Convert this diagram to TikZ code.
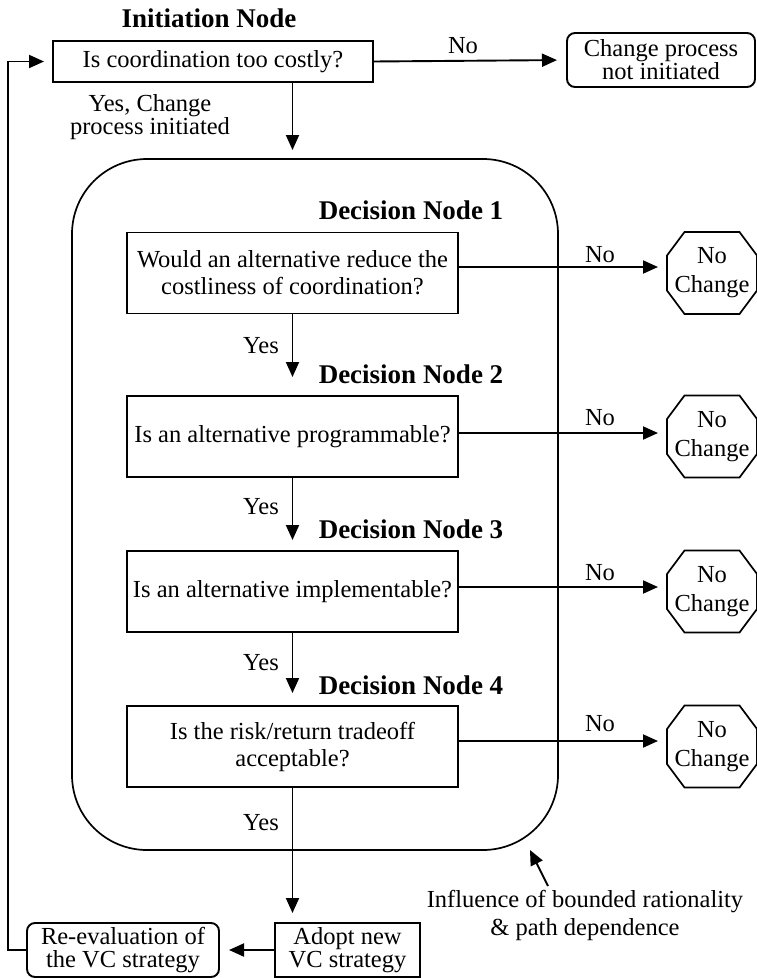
\documentclass[tikz,border=0pt]{standalone}
\usepackage{fontspec}
\setmainfont{Liberation Serif}
\usetikzlibrary{arrows.meta,calc}
\begin{document}
\begin{tikzpicture}[x=1pt,y=-1pt,
  every node/.style={inner sep=0pt,outer sep=0pt},
  body/.style={font=\fontsize{24.5}{27}\selectfont,align=center},
  title/.style={font=\fontsize{27}{30}\selectfont\bfseries},
  qbox/.style={draw,line width=1.9pt,body,minimum width=331pt,minimum height=81pt},
  rbox/.style={draw,line width=1.9pt,rounded corners=8pt,font=\fontsize{24.5}{23}\selectfont,align=center},
  pbox/.style={draw,line width=1.9pt,font=\fontsize{24.5}{23}\selectfont,align=center},
  octo/.style={minimum width=90pt,minimum height=82pt,font=\fontsize{24.5}{29}\selectfont,align=center},
  lab/.style={body},
  arr/.style={line width=1.9pt,-{Triangle[length=15pt,width=13pt]}},
  ln/.style={line width=1.7pt}
]
\useasboundingbox (0,0) rectangle (756,978);

% initiation
\node[title] (tinit) at (209,18) {Initiation Node};
\node[pbox,font=\fontsize{24.5}{27}\selectfont,minimum width=320pt,minimum height=41pt] (init) at (213,61.5) {Is coordination too costly?};
\node[rbox,minimum width=188pt,minimum height=54pt] (cp) at (661,60) {Change process\\not initiated};
\node[lab,font=\fontsize{24.5}{22}\selectfont] (lyes0) at (150,117) {Yes, Change\\process initiated};
\node[lab] (lno0) at (463,46) {No};

% region
\node[draw,line width=1.7pt,rounded corners=75pt,minimum width=486pt,minimum height=691pt] (region) at (315,504.5) {};

% decision nodes
\node[title] (t1) at (411,210) {Decision Node 1};
\node[qbox] (d1) at (292.5,273) {Would an alternative reduce the\\costliness of coordination?};
\node[title] (t2) at (411,374) {Decision Node 2};
\node[qbox] (d2) at (292.5,436.5) {Is an alternative programmable?};
\node[title] (t3) at (411,529) {Decision Node 3};
\node[qbox] (d3) at (292.5,591.5) {Is an alternative implementable?};
\node[title] (t4) at (411,685) {Decision Node 4};
\node[qbox] (d4) at (292.5,746.5) {Is the risk/return tradeoff\\acceptable?};

% octagons
\node[octo] (o1) at (712,273) {No\\Change};
\node[octo] (o2) at (712,436.5) {No\\Change};
\node[octo] (o3) at (712,591.5) {No\\Change};
\node[octo] (o4) at (712,746.5) {No\\Change};
\foreach \o in {o1,o2,o3,o4}{
  \draw[ln] ($(\o.north west)+(17.5,0)$) -- ($(\o.north east)+(-17.5,0)$)
    -- ($(\o.north east)+(0,23.5)$) -- ($(\o.south east)+(0,-23.5)$)
    -- ($(\o.south east)+(-17.5,0)$) -- ($(\o.south west)+(17.5,0)$)
    -- ($(\o.south west)+(0,-23.5)$) -- ($(\o.north west)+(0,23.5)$) -- cycle;
}

% labels
\node[lab] (ln1) at (600,255) {No};
\node[lab] (ln2) at (600,418) {No};
\node[lab] (ln3) at (600,573) {No};
\node[lab] (ln4) at (600,724) {No};
\node[lab] (ly1) at (261,346) {Yes};
\node[lab] (ly2) at (261,507) {Yes};
\node[lab] (ly3) at (261,663) {Yes};
\node[lab] (ly4) at (261,823) {Yes};

% bottom
\node[pbox,minimum width=145pt,minimum height=54pt] (adopt) at (347.5,950) {Adopt new\\VC strategy};
\node[rbox,minimum width=192pt,minimum height=54pt] (reeval) at (123,950) {Re-evaluation of\\the VC strategy};
\node[lab,font=\fontsize{24.5}{28}\selectfont] (infl) at (585,915) {Influence of bounded rationality\\\& path dependence};

\coordinate (lc) at (8,950);
\coordinate (inftip) at (530,850);
\coordinate (inftail) at (548,886);

% connectors
\draw[arr,shorten >=10pt] (init.east) -- (cp.west);
\draw[arr,shorten >=9pt] (init.south -| d1.north) -- (region.north -| d1.north);
\draw[arr,shorten >=19pt] (d1.south) -- (d2.north);
\draw[arr,shorten >=11pt] (d2.south) -- (d3.north);
\draw[arr,shorten >=13pt] (d3.south) -- (d4.north);
\draw[arr,shorten >=10pt] (d4.south) -- (adopt.north -| d4.south);
\draw[arr,shorten >=9pt] ([yshift=6pt]d1.east) -- ([yshift=6pt]o1.west);
\draw[arr,shorten >=9pt] ([yshift=3.5pt]d2.east) -- ([yshift=3.5pt]o2.west);
\draw[arr,shorten >=9pt] ([yshift=4.5pt]d3.east) -- ([yshift=4.5pt]o3.west);
\draw[arr,shorten >=9pt] ([yshift=5.5pt]d4.east) -- ([yshift=5.5pt]o4.west);
\draw[arr,shorten >=10pt] (adopt.west) -- (reeval.east);
\draw[arr,shorten >=9pt] (reeval.west) -- (lc) |- (init.west);
\draw[arr] (inftail) -- (inftip);
\end{tikzpicture}
\end{document}
